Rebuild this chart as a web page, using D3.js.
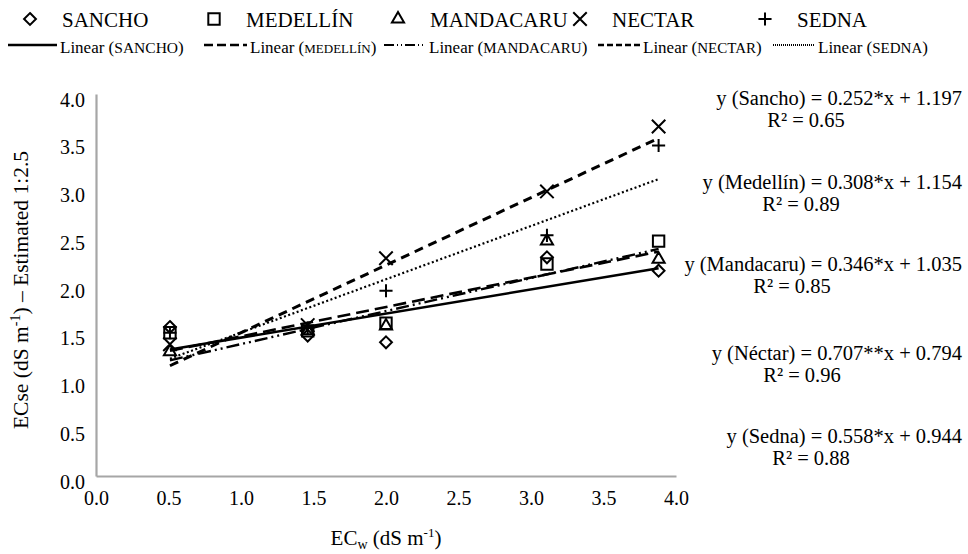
<!DOCTYPE html>
<html lang="en">
  <head>
    <meta charset="utf-8"/>
    <script src="https://d3js.org/d3.v7.min.js"></script>
    <style>
      body { margin: 0; background: #fff; }
      svg text { font-family: "Liberation Serif", "Times New Roman", "DejaVu Serif", serif; fill: #000; }
    </style>
  </head>
  <body>
    <svg class="chart" width="968" height="554"></svg>
  </body>
  <script>
    // data
    const ecw = [0.51, 1.46, 2.0, 3.11, 3.88];
    const sancho    = [1.56, 1.47, 1.40, 2.29, 2.15];
    const medellin  = [1.50, 1.52, 1.60, 2.22, 2.46];
    const mandacaru = [1.30, 1.52, 1.57, 2.46, 2.27];
    const nectar    = [1.38, 1.58, 2.28, 2.98, 3.66];
    const sedna     = [1.50, 1.55, 1.94, 2.52, 3.46];

    const legendNames = ["SANCHO", "MEDELLÍN", "MANDACARU", "NECTAR", "SEDNA"];
    const eqNames = ["Sancho", "Medellín", "Mandacaru", "Néctar", "Sedna"];
    const slopes = [0.252, 0.308, 0.346, 0.707, 0.558];
    const slopeMarks = ["*", "*", "*", "**", "*"];
    const intercepts = [1.197, 1.154, 1.035, 0.794, 0.944];
    const r2 = [0.65, 0.89, 0.85, 0.96, 0.88];
    const xTicks = [0, 0.5, 1, 1.5, 2, 2.5, 3, 3.5, 4];
    const yTicks = [0, 0.5, 1, 1.5, 2, 2.5, 3, 3.5, 4];

    const FONT = "'Liberation Serif', 'Times New Roman', 'DejaVu Serif', serif";
    const series = [sancho, medellin, mandacaru, nectar, sedna];
    const symbols = [
      d3.symbol().type(d3.symbolDiamond2).size(90),
      d3.symbol().type(d3.symbolSquare2).size(165),
      d3.symbol().type(d3.symbolTriangle2).size(105),
      d3.symbol().type(d3.symbolTimes).size(120),
      d3.symbol().type(d3.symbolPlus).size(58)
    ];
    const dashes = ["none", "13,6", "13,4,2,4,2,4", "9,6", "2,2.5"];
    const lineW = [2.6, 2.6, 2.4, 3, 2.2];

    const svg = d3.select(".chart");
    const x = d3.scaleLinear().domain([0, 4]).range([96, 676]);
    const y = d3.scaleLinear().domain([0, 4]).range([476, 94]);

    // axes
    const xAxis = svg.append("g")
      .attr("transform", "translate(0," + y(0) + ")")
      .call(d3.axisBottom(x).tickValues(xTicks).tickSize(0).tickPadding(11)
        .tickFormat(d3.format(".1f")));
    const yAxis = svg.append("g")
      .attr("transform", "translate(" + x(0) + ",0)")
      .call(d3.axisLeft(y).tickValues(yTicks).tickSize(0).tickPadding(11)
        .tickFormat(d3.format(".1f")));
    [xAxis, yAxis].forEach(function(a) {
      a.attr("font-family", FONT).attr("font-size", 20);
      a.select(".domain").attr("stroke", "#a6a6a6").attr("stroke-width", 2.2);
      a.selectAll("text").attr("fill", "#000");
    });
    yAxis.selectAll("text").attr("dy", "0.6em");
    xAxis.selectAll("text").attr("dy", "0.9em");

    // trend lines
    const xMin = d3.min(ecw), xMax = d3.max(ecw);
    const trend = d3.line().x(function(d) { return x(d[0]); }).y(function(d) { return y(d[1]); });
    series.forEach(function(s, i) {
      const pts = [xMin, xMax].map(function(v) { return [v, slopes[i] * v + intercepts[i]]; });
      svg.append("path")
        .attr("d", trend(pts))
        .attr("fill", "none")
        .attr("stroke", "#000")
        .attr("stroke-width", lineW[i])
        .attr("stroke-dasharray", dashes[i]);
    });

    // markers
    series.forEach(function(s, i) {
      svg.append("g").selectAll("path")
        .data(s)
        .enter().append("path")
          .attr("transform", function(d, j) { return "translate(" + x(ecw[j]) + "," + y(d) + ")"; })
          .attr("d", symbols[i])
          .attr("fill", "none")
          .attr("stroke", "#000")
          .attr("stroke-width", 2);
    });

    // legend, row 1
    const mx = [30, 214, 398, 580, 765];
    const leg = svg.append("g");
    legendNames.forEach(function(n, i) {
      leg.append("path").attr("transform", "translate(" + mx[i] + ",19)")
        .attr("d", symbols[i]).attr("fill", "none").attr("stroke", "#000").attr("stroke-width", 2);
      leg.append("text").attr("x", mx[i] + 32).attr("y", 27)
        .style("font-size", "21px").text(n);
    });

    // legend, row 2
    const lx = [8, 204, 384, 598, 773];
    const lw = [49, 43, 42, 42, 42];
    const smallSize = ["15.5px", "13px", "15px", "15px", "15px"];
    legendNames.forEach(function(n, i) {
      leg.append("line")
        .attr("x1", lx[i]).attr("x2", lx[i] + lw[i]).attr("y1", 45).attr("y2", 45)
        .attr("stroke", "#000").attr("stroke-width", lineW[i] * 0.9)
        .attr("stroke-dasharray", i == 4 ? "1,1" : (i == 3 ? "6,3" : (i == 2 ? "10,3,1,3,1,3" : (i == 1 ? "9,4" : "none"))));
      const t = leg.append("text").attr("x", lx[i] + lw[i] + 3).attr("y", 53).style("font-size", "17px");
      t.append("tspan").text("Linear (");
      t.append("tspan").style("font-size", smallSize[i]).text(n);
      t.append("tspan").text(")");
    });

    // equations
    const eqY = [105, 189, 271, 360, 443];
    const r2X = [806, 801, 792, 802, 811];
    const eqRight = 962;
    eqNames.forEach(function(n, i) {
      svg.append("text").attr("x", eqRight).attr("y", eqY[i])
        .attr("text-anchor", "end").style("font-size", "20.5px")
        .text("y (" + n + ") = " + slopes[i].toFixed(3) + slopeMarks[i] + "x + " + intercepts[i].toFixed(3));
      svg.append("text").attr("x", r2X[i]).attr("y", eqY[i] + 22)
        .attr("text-anchor", "middle").style("font-size", "20.5px")
        .text("R² = " + r2[i].toFixed(2));
    });

    // axis titles
    const xt = svg.append("text").attr("x", 386).attr("y", 545)
      .attr("text-anchor", "middle").style("font-size", "21px");
    xt.append("tspan").text("EC");
    xt.append("tspan").attr("dy", 4).style("font-size", "14px").text("w");
    xt.append("tspan").attr("dy", -4).text(" (dS m");
    xt.append("tspan").attr("dy", -8).style("font-size", "13px").text("-1");
    xt.append("tspan").attr("dy", 8).text(")");

    const yt = svg.append("text")
      .attr("transform", "translate(28,290) rotate(-90)")
      .attr("text-anchor", "middle").style("font-size", "21.5px");
    yt.append("tspan").text("ECse (dS m");
    yt.append("tspan").attr("dy", -8).style("font-size", "14px").text("-1");
    yt.append("tspan").attr("dy", 8).text(") – Estimated 1:2.5");
  </script>
</html>
